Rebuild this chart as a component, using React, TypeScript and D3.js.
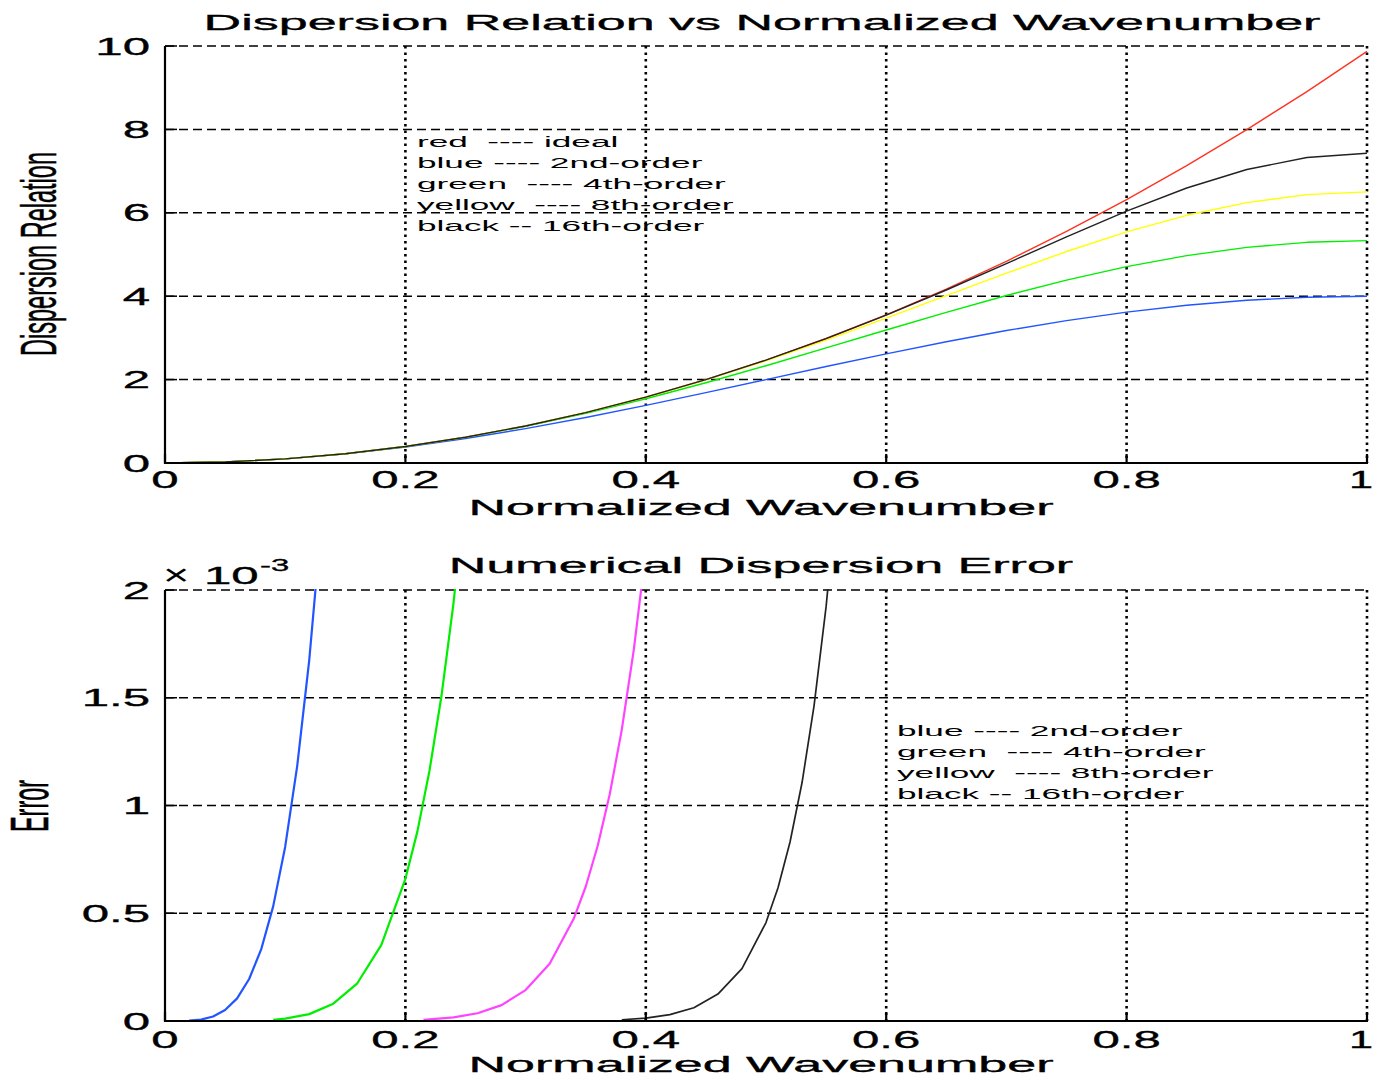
import React from 'react';
import * as d3 from 'd3';

const W = 1374;
const H = 1079;

// ---------- data: top panel (dispersion relation) ----------
const kTop = [0, 0.05, 0.1, 0.15, 0.2, 0.25, 0.3, 0.35, 0.4, 0.45, 0.5, 0.55, 0.6, 0.65, 0.7, 0.75, 0.8, 0.85, 0.9, 0.95, 1];
const ideal = [0, 0.025, 0.099, 0.222, 0.395, 0.617, 0.888, 1.209, 1.579, 1.999, 2.467, 2.986, 3.553, 4.17, 4.836, 5.552, 6.317, 7.131, 7.994, 8.907, 9.87];
const order2 = [0, 0.025, 0.098, 0.218, 0.382, 0.586, 0.824, 1.092, 1.382, 1.687, 2.0, 2.313, 2.618, 2.908, 3.176, 3.414, 3.618, 3.782, 3.902, 3.975, 4.0];
const order4 = [0, 0.025, 0.099, 0.222, 0.394, 0.614, 0.881, 1.191, 1.541, 1.924, 2.333, 2.759, 3.189, 3.613, 4.016, 4.386, 4.709, 4.974, 5.171, 5.292, 5.333];
const order8 = [0, 0.025, 0.099, 0.222, 0.395, 0.617, 0.888, 1.208, 1.577, 1.992, 2.451, 2.947, 3.473, 4.014, 4.553, 5.071, 5.541, 5.94, 6.245, 6.436, 6.502];
const order16 = [0, 0.025, 0.099, 0.222, 0.395, 0.617, 0.888, 1.209, 1.579, 1.998, 2.467, 2.984, 3.546, 4.149, 4.782, 5.423, 6.04, 6.595, 7.039, 7.326, 7.427];

// ---------- data: bottom panel (error, in units of 1e-3) ----------
const errBlueK = [0.02, 0.03, 0.04, 0.05, 0.06, 0.07, 0.08, 0.09, 0.1, 0.11, 0.12, 0.13];
const errBlue = [0.0013, 0.0066, 0.0208, 0.0507, 0.105, 0.195, 0.332, 0.532, 0.809, 1.184, 1.675, 2.305];
const errGreenK = [0.09, 0.1, 0.12, 0.14, 0.16, 0.18, 0.2, 0.21, 0.22, 0.23, 0.24, 0.25];
const errGreen = [0.0057, 0.0107, 0.0319, 0.0804, 0.175, 0.353, 0.66, 0.88, 1.16, 1.508, 1.938, 2.47];
const errMagentaK = [0.215, 0.22, 0.24, 0.26, 0.28, 0.3, 0.32, 0.34, 0.35, 0.36, 0.37, 0.38, 0.39, 0.4];
const errMagenta = [0.005, 0.0071, 0.0165, 0.036, 0.0738, 0.1434, 0.266, 0.474, 0.623, 0.813, 1.052, 1.351, 1.722, 2.179];
const errBlackK = [0.38, 0.4, 0.42, 0.44, 0.46, 0.48, 0.5, 0.51, 0.52, 0.53, 0.54, 0.55, 0.56];
const errBlack = [0.0057, 0.0133, 0.0293, 0.0617, 0.1249, 0.2432, 0.4568, 0.6184, 0.8306, 1.1066, 1.4639, 1.9226, 2.507];

// ---------- ticks & labels ----------
const xTicks = [0, 0.2, 0.4, 0.6, 0.8, 1];
const xTickLabels = ['0', '0.2', '0.4', '0.6', '0.8', '1'];
const yTicksTop = [0, 2, 4, 6, 8, 10];
const yTickLabelsTop = ['0', '2', '4', '6', '8', '10'];
const yTicksBottom = [0, 0.5, 1, 1.5, 2];
const yTickLabelsBottom = ['0', '0.5', '1', '1.5', '2'];

const legendTop = ['red  ---- ideal', 'blue ---- 2nd-order', 'green  ---- 4th-order', 'yellow  ---- 8th-order', 'black -- 16th-order'];
const legendBottom = ['blue ---- 2nd-order', 'green  ---- 4th-order', 'yellow  ---- 8th-order', 'black -- 16th-order'];

const C = {
  red: '#ff3322',
  blue: '#2255ff',
  green: '#00ee00',
  yellow: '#ffff00',
  black: '#222222',
  magenta: '#ff44ff',
};

const FONT = "'Liberation Sans', Arial, Helvetica, sans-serif";

function T({ x, y, fs, sx, anchor = 'start', heavy = true, children }: any) {
  return (
    <text
      transform={`translate(${x},${y}) scale(${sx},1)`}
      fontSize={fs}
      textAnchor={anchor}
      fontFamily={FONT}
      fill="#000"
      stroke={heavy ? '#000' : 'none'}
      strokeWidth={heavy ? 0.32 : 0}
      style={{ whiteSpace: 'pre' }}
    >
      {children}
    </text>
  );
}

function RotT({ x, y, fs, sx, len, children }: any) {
  return (
    <text
      transform={`translate(${x},${y}) scale(${sx},1) rotate(-90)`}
      fontSize={fs}
      textAnchor="middle"
      fontFamily={FONT}
      fill="#000"
      stroke="#000"
      strokeWidth={0.25}
      textLength={len}
      lengthAdjust="spacingAndGlyphs"
    >
      {children}
    </text>
  );
}

const X0 = 165;
const X1 = 1367;
const xScale = d3.scaleLinear().domain([0, 1]).range([X0, X1]);

const TICK_FS = 24;
const TICK_SX = 2.05;
const LAB_FS = 21.5;
const LAB_SX = 2.42;
const LEG_FS = 15.5;
const LEG_SX = 2.27;

function Panel({ id, yScale, yTicks, yTickLabels, series, xTickBaseline }: any) {
  const [yBot, yTop] = yScale.range();
  return (
    <g>
      <defs>
        <clipPath id={id}>
          <rect x={X0} y={yTop - 1} width={X1 - X0 + 1} height={yBot - yTop + 2} />
        </clipPath>
      </defs>
      {yTicks.filter((t: number) => t !== 0).map((t: number) => (
        <line key={'h' + t} x1={X0} x2={X1} y1={yScale(t)} y2={yScale(t)} stroke="#000" strokeWidth={1.5} strokeDasharray="9 5" />
      ))}
      {xTicks.filter((t) => t !== 0).map((t) => (
        <line key={'v' + t} x1={xScale(t)} x2={xScale(t)} y1={yTop} y2={yBot} stroke="#000" strokeWidth={2.6} strokeDasharray="2.5 4" />
      ))}
      <g clipPath={`url(#${id})`}>
        {series.map((s: any, i: number) => {
          const line = d3
            .line<number>()
            .x((_, j) => xScale(s.k[j]))
            .y((v) => yScale(v));
          return <path key={i} d={line(s.v) || ''} fill="none" stroke={s.color} strokeWidth={s.w} strokeLinejoin="round" />;
        })}
      </g>
      <line x1={X0} x2={X0} y1={yTop} y2={yBot + 1} stroke="#000" strokeWidth={2.2} />
      <line x1={X0} x2={X1 + 1} y1={yBot} y2={yBot} stroke="#000" strokeWidth={2.2} />
      {xTicks.map((t) => (
        <line key={'xt' + t} x1={xScale(t)} x2={xScale(t)} y1={yBot} y2={yBot - 9} stroke="#000" strokeWidth={2.2} />
      ))}
      {yTicks.map((t: number) => (
        <line key={'yt' + t} x1={X0} x2={X0 + 12} y1={yScale(t)} y2={yScale(t)} stroke="#000" strokeWidth={1.5} />
      ))}
      {xTicks.map((t, i) => {
        const last = i === xTicks.length - 1;
        return (
          <T key={'xl' + t} x={last ? 1373 : xScale(t)} y={xTickBaseline} fs={TICK_FS} sx={last ? 1.8 : TICK_SX} anchor={last ? 'end' : 'middle'}>
            {xTickLabels[i]}
          </T>
        );
      })}
      {yTicks.map((t: number, i: number) => (
        <T key={'yl' + t} x={150} y={yScale(t) + 8.5} fs={TICK_FS} sx={TICK_SX} anchor="end">
          {yTickLabels[i]}
        </T>
      ))}
    </g>
  );
}

export default function App() {
  const yTop = d3.scaleLinear().domain([0, 10]).range([463, 46]);
  const yBottom = d3.scaleLinear().domain([0, 2]).range([1021, 590]);

  const topSeries = [
    { k: kTop, v: ideal, color: C.red, w: 1.4 },
    { k: kTop, v: order2, color: C.blue, w: 1.4 },
    { k: kTop, v: order4, color: C.green, w: 1.4 },
    { k: kTop, v: order8, color: C.yellow, w: 1.4 },
    { k: kTop, v: order16, color: C.black, w: 1.4 },
  ];
  const bottomSeries = [
    { k: errBlueK, v: errBlue, color: C.blue, w: 2.2 },
    { k: errGreenK, v: errGreen, color: C.green, w: 2.2 },
    { k: errMagentaK, v: errMagenta, color: C.magenta, w: 2.2 },
    { k: errBlackK, v: errBlack, color: C.black, w: 1.7 },
  ];

  return (
    <svg width={W} height={H} style={{ position: 'absolute', left: 0, top: 0, background: '#fff' }}>
      <rect x={0} y={0} width={W} height={H} fill="#fff" />

      {/* ---------- top panel ---------- */}
      <T x={762} y={29.5} fs={LAB_FS} sx={LAB_SX} anchor="middle">Dispersion Relation vs Normalized Wavenumber</T>
      <Panel id="clipTop" yScale={yTop} yTicks={yTicksTop} yTickLabels={yTickLabelsTop} series={topSeries} xTickBaseline={488} />
      <T x={761} y={515} fs={LAB_FS} sx={LAB_SX} anchor="middle">Normalized Wavenumber</T>
      <RotT x={56} y={254} fs={23.5} sx={2.1} len={204}>Dispersion Relation</RotT>
      {legendTop.map((s, i) => (
        <T key={'lt' + i} x={417} y={146.5 + i * 21} fs={LEG_FS} sx={LEG_SX} heavy={false}>{s}</T>
      ))}

      {/* ---------- bottom panel ---------- */}
      <T x={761} y={573} fs={LAB_FS} sx={LAB_SX} anchor="middle">Numerical Dispersion Error</T>
      <Panel id="clipBottom" yScale={yBottom} yTicks={yTicksBottom} yTickLabels={yTickLabelsBottom} series={bottomSeries} xTickBaseline={1048} />
      <T x={761} y={1072} fs={LAB_FS} sx={LAB_SX} anchor="middle">Normalized Wavenumber</T>
      <RotT x={48} y={806} fs={23.5} sx={2.3} len={52}>Error</RotT>
      <T x={163} y={585} fs={30} sx={1.5} heavy={false}>×</T>
      <T x={204} y={584} fs={TICK_FS} sx={TICK_SX}>10</T>
      <T x={260} y={571} fs={16} sx={TICK_SX}>-3</T>
      {legendBottom.map((s, i) => (
        <T key={'lb' + i} x={897} y={736 + i * 21} fs={LEG_FS} sx={LEG_SX} heavy={false}>{s}</T>
      ))}
    </svg>
  );
}
